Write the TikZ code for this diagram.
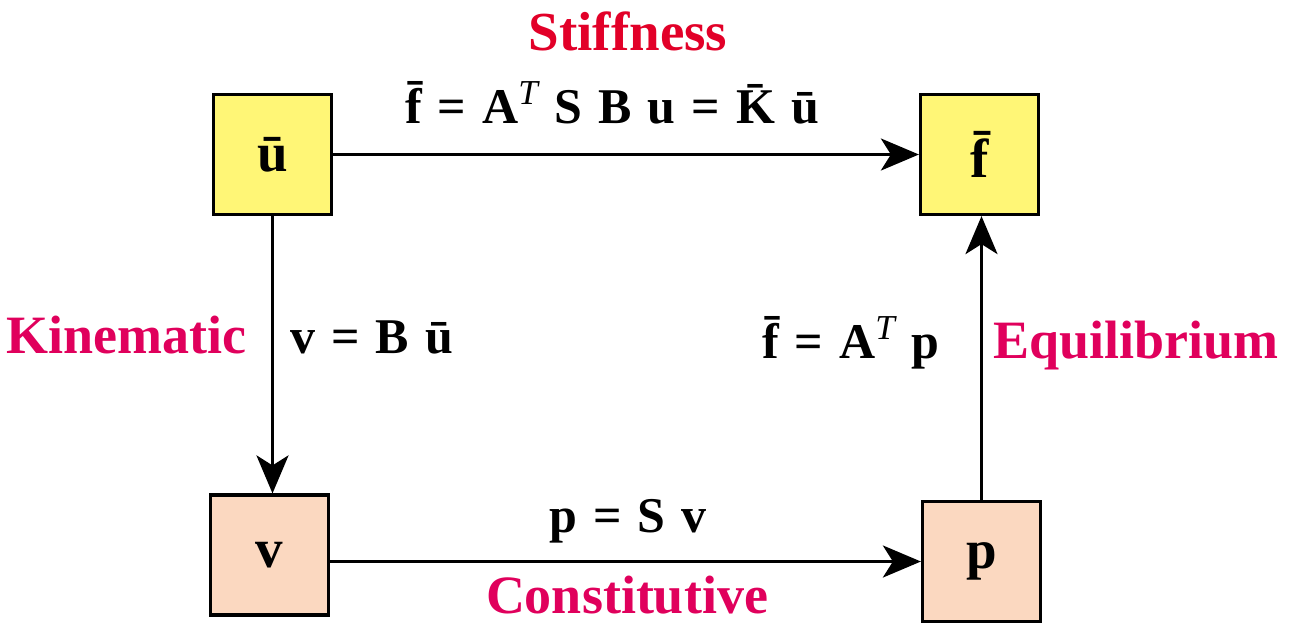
\documentclass[tikz,border=0pt]{standalone}
\usepackage{fontspec}
\setmainfont{Liberation Serif}
\usetikzlibrary{arrows.meta,positioning}
\definecolor{stiffred}{RGB}{226,0,40}
\definecolor{lblmag}{RGB}{224,0,92}
\definecolor{dispfill}{RGB}{255,246,118}
\definecolor{strfill}{RGB}{251,216,192}
\newcommand{\supT}{\textsuperscript{\mdseries\itshape T}}
\newcommand{\eqsp}{\spaceskip=0.32em\relax}
\tikzset{
  ybox/.style={draw=black, fill=dispfill, line width=1.6pt, minimum width=59pt,
               minimum height=60pt, inner sep=0pt, font=\fontsize{27.5}{30}\selectfont\bfseries},
  pbox/.style={ybox, fill=strfill},
  flow/.style={-{Stealth[length=19pt,width=16pt,inset=5pt]}, line width=1.6pt},
  eqn/.style={inner sep=0pt, font=\fontsize{25}{28}\selectfont\bfseries},
  lbl/.style={inner sep=0pt, text=lblmag, font=\fontsize{27}{30}\selectfont\bfseries},
}

\begin{document}
\begin{tikzpicture}[x=0.5pt, y=-0.5pt]
  \useasboundingbox (0,0) rectangle (1291,623);
  % boxes
  \node[ybox] (ubar) at (272.5,154.5) {\={u}};
  \node[ybox] (fbar) at (979.5,154.5) {\={f}};
  \node[pbox] (v) at (269.5,555) {v};
  \node[pbox] (p) at (981.5,561.5) {p};
  % arrows
  \draw[flow] (ubar.east) -- (fbar.west);
  \draw[flow] (ubar.south) -- (ubar.south |- v.north);
  \draw[flow] (v.east |- p.west) -- (p.west);
  \draw[flow] (p.north) -- (p.north |- fbar.south);
  % texts
  \node[lbl, text=stiffred, font=\fontsize{27.5}{30}\selectfont\bfseries, anchor=base] (stiff) at (628,50) {Stiffness};
  \node[eqn, anchor=base] (stiffeq) at (612,123) {\eqsp\={f} = A\supT\ S B u = \={K} \={u}};
  \node[lbl, anchor=base east] (kin) at (247,353) {Kinematic};
  \node[eqn, anchor=base west] (kineq) at (290,353) {\eqsp v = B \={u}};
  \node[eqn, anchor=base east] (equeq) at (940,358) {\eqsp\={f} = A\supT\ p};
  \node[lbl, anchor=base west] (equ) at (993,358) {Equilibrium};
  \node[eqn, anchor=base] (consteq) at (628,532) {\eqsp p = S v};
  \node[lbl, anchor=base] (const) at (627,613) {Constitutive};
\end{tikzpicture}
\end{document}
